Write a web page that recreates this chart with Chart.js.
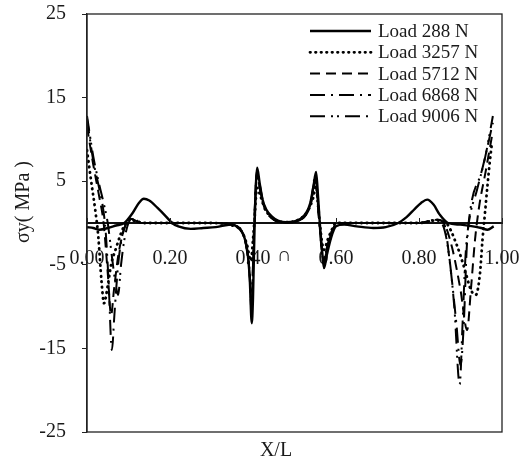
<!DOCTYPE html>
<html>
<head>
<meta charset="utf-8">
<script src="https://cdn.jsdelivr.net/npm/chart.js@4"></script>
<style>
  body { margin: 0; background: #fff; }
  #wrap { width: 531px; height: 472px; }
</style>
</head>
<body>
<div id="wrap"><canvas id="myLineChart" width="531" height="472"></canvas></div>
<script>
// values (X/L against sigma y in MPa)
const seriesLabels = ['Load 288 N', 'Load 3257 N', 'Load 5712 N', 'Load 6868 N', 'Load 9006 N'];

const x288 = [0, 0.015, 0.03, 0.05, 0.07, 0.09, 0.11, 0.125, 0.137, 0.15, 0.17, 0.19, 0.205, 0.22, 0.25, 0.28, 0.31, 0.33, 0.35, 0.365, 0.377, 0.386, 0.392, 0.397, 0.4, 0.404, 0.41, 0.416, 0.423, 0.432, 0.445, 0.46, 0.48, 0.5, 0.515, 0.528, 0.538, 0.546, 0.552, 0.557, 0.561, 0.566, 0.571, 0.578, 0.588, 0.6, 0.62, 0.65, 0.69, 0.72, 0.75, 0.77, 0.79, 0.805, 0.82, 0.835, 0.85, 0.87, 0.9, 0.93, 0.95, 0.965, 0.98];
const y288 = [-0.5, -0.6, -0.8, -0.6, -0.3, 0, 1.2, 2.4, 2.9, 2.7, 1.8, 0.8, 0, -0.4, -0.7, -0.6, -0.5, -0.3, -0.2, -0.6, -1.4, -3.2, -6.5, -12, -9, 0, 6.6, 4.8, 2.8, 1.6, 0.8, 0.3, 0.1, 0.2, 0.5, 1.2, 2.4, 4.5, 6.1, 3, 0, -3, -5.4, -3.8, -1.8, -0.4, -0.2, -0.4, -0.6, -0.5, 0, 0.7, 1.7, 2.4, 2.8, 2.2, 1, 0, -0.2, -0.4, -0.6, -0.8, -0.4];

const x3257 = [0, 0.01, 0.02, 0.027, 0.035, 0.041, 0.05, 0.058, 0.07, 0.08, 0.09, 0.1, 0.12, 0.14, 0.2, 0.3, 0.35, 0.37, 0.385, 0.395, 0.4, 0.403, 0.41, 0.418, 0.43, 0.45, 0.48, 0.51, 0.53, 0.545, 0.552, 0.557, 0.561, 0.566, 0.571, 0.58, 0.59, 0.6, 0.7, 0.8, 0.84, 0.865, 0.89, 0.91, 0.925, 0.937, 0.947, 0.953, 0.959, 0.965, 0.971, 0.976];
const y3257 = [8.7, 5, 1.5, -1.5, -7, -9.6, -7.5, -5, -3, -1.5, -0.3, 0.4, 0.2, 0, 0, 0, -0.3, -0.8, -2.5, -4.5, -2, 0, 4.2, 3.2, 1.6, 0.5, 0.1, 0.4, 1.3, 3, 4.4, 2, 0, -2.2, -3.2, -2, -0.8, 0, 0, 0, 0.3, 0, -2.5, -5.5, -8, -8.6, -6, -2, 1.2, 4.5, 7.5, 9.7];

const x5712 = [0, 0.015, 0.03, 0.04, 0.05, 0.058, 0.065, 0.075, 0.085, 0.095, 0.105, 0.13, 0.2, 0.3, 0.35, 0.37, 0.385, 0.392, 0.397, 0.4, 0.403, 0.409, 0.416, 0.425, 0.435, 0.45, 0.48, 0.51, 0.528, 0.54, 0.551, 0.556, 0.56, 0.565, 0.57, 0.578, 0.59, 0.6, 0.62, 0.7, 0.8, 0.845, 0.86, 0.88, 0.9, 0.916, 0.925, 0.935, 0.945, 0.96, 0.978];
const y5712 = [11.5, 7, 3, 0, -6, -11, -8, -4, -1.5, 0, 0.5, 0, 0, 0, -0.2, -0.8, -3, -6, -10, -5, 0, 5.8, 4.2, 2.2, 1.2, 0.4, 0.05, 0.3, 1, 2.5, 5.5, 2.5, 0, -2.8, -4.5, -3, -1, -0.2, 0, 0, 0, 0.4, 0, -3, -8, -12.8, -8, -2, 2, 6, 11];

const x6868 = [0, 0.015, 0.03, 0.038, 0.045, 0.052, 0.06, 0.066, 0.075, 0.085, 0.095, 0.105, 0.13, 0.2, 0.3, 0.35, 0.37, 0.385, 0.392, 0.397, 0.4, 0.403, 0.41, 0.417, 0.425, 0.435, 0.45, 0.48, 0.51, 0.528, 0.54, 0.551, 0.556, 0.56, 0.565, 0.57, 0.578, 0.59, 0.6, 0.62, 0.7, 0.8, 0.845, 0.86, 0.875, 0.89, 0.9, 0.908, 0.915, 0.925, 0.95, 0.978];
const y6868 = [12.5, 7.5, 4, 2, -1, -7, -15.2, -11, -5, -1.5, 0, 0.5, 0, 0, 0, -0.2, -0.8, -3.2, -6.5, -11, -5.5, 0, 6.2, 4.4, 2.4, 1.3, 0.4, 0.05, 0.3, 1.1, 2.7, 5.9, 2.6, 0, -3, -4.9, -3.2, -1, -0.2, 0, 0, 0, 0.4, 0, -5, -12, -17, -12, -3, 2, 6, 12];

const x9006 = [0, 0.015, 0.03, 0.04, 0.05, 0.06, 0.068, 0.075, 0.082, 0.09, 0.1, 0.11, 0.13, 0.2, 0.3, 0.35, 0.37, 0.385, 0.392, 0.397, 0.4, 0.403, 0.41, 0.417, 0.425, 0.435, 0.45, 0.48, 0.51, 0.528, 0.54, 0.551, 0.556, 0.56, 0.565, 0.57, 0.578, 0.59, 0.6, 0.62, 0.7, 0.8, 0.84, 0.855, 0.87, 0.885, 0.898, 0.905, 0.912, 0.92, 0.94, 0.96, 0.978];
const y9006 = [12.8, 8, 4.5, 2.4, 0, -4, -7, -8.6, -5, -2, 0, 0.6, 0, 0, 0, -0.2, -0.7, -3, -6, -10.5, -5, 0, 5.5, 4, 2.1, 1.1, 0.4, 0.05, 0.3, 1, 2.4, 5.3, 2.4, 0, -2.8, -4.8, -3, -1, -0.2, 0, 0, 0, 0.4, 0, -3, -10, -19.3, -12, -4, 0, 4, 8, 12.8];

const xTickStep = 0.2;
const yTicksMin = -25;
const yTicksMax = 25;
const yTickStep = 10;

const serif = 'Liberation Serif, Times New Roman, serif';
const textColor = '#1a1a1a';

function toPoints(xs, ys) {
    return xs.map((x, i) => ({x: x, y: ys[i]}));
}

const lineStyles = [
    {dash: [], width: 2.4, cap: 'butt'},
    {dash: [0.5, 5], width: 2.8, cap: 'round'},
    {dash: [10, 6], width: 2, cap: 'butt'},
    {dash: [15, 6, 2, 6], width: 2, cap: 'butt'},
    {dash: [15, 6, 2, 4, 2, 6], width: 2, cap: 'butt'}
];

const seriesData = [
    toPoints(x288, y288),
    toPoints(x3257, y3257),
    toPoints(x5712, y5712),
    toPoints(x6868, y6868),
    toPoints(x9006, y9006)
];

// frame, small x ticks, axis titles and legend drawn on the canvas
const decorPlugin = {
    id: 'decor',
    afterDraw(chart) {
        const ctx = chart.ctx;
        const a = chart.chartArea;
        const xs = chart.scales.x;
        const ys = chart.scales.y;
        ctx.save();

        ctx.strokeStyle = '#222';
        ctx.lineWidth = 1.3;
        ctx.strokeRect(a.left, a.top, a.right - a.left, a.bottom - a.top);

        const zeroY = ys.getPixelForValue(0);
        ctx.lineWidth = 1;
        ctx.beginPath();
        xs.ticks.forEach(t => {
            const px = Math.round(xs.getPixelForValue(t.value)) + 0.5;
            ctx.moveTo(px, zeroY);
            ctx.lineTo(px, zeroY - 5);
        });
        ctx.stroke();

        ctx.fillStyle = textColor;
        ctx.font = '20px ' + serif;
        ctx.textAlign = 'center';
        ctx.textBaseline = 'middle';
        ctx.fillText('X/L', 276, 451);
        ctx.fillText('\u2229', 284, 256);

        ctx.save();
        ctx.translate(24, 202);
        ctx.rotate(-Math.PI / 2);
        ctx.fillText('σy( MPa )', 0, 0);
        ctx.restore();

        // legend
        ctx.textAlign = 'left';
        ctx.font = '19px ' + serif;
        chart.data.datasets.forEach((ds, i) => {
            const cy = 31 + i * 21.3;
            ctx.save();
            ctx.strokeStyle = '#000';
            ctx.lineWidth = ds.borderWidth;
            ctx.lineCap = ds.borderCapStyle;
            ctx.setLineDash(ds.borderDash || []);
            ctx.beginPath();
            ctx.moveTo(310, cy);
            ctx.lineTo(371, cy);
            ctx.stroke();
            ctx.restore();
            ctx.fillText(ds.label, 378, cy + 1);
        });
        ctx.restore();
    }
};

let myLineChart = new Chart(document.getElementById('myLineChart').getContext('2d'), {
    type: 'line',
    data: {
        datasets: seriesLabels.map((label, i) => ({
            label: label,
            data: seriesData[i],
            borderColor: '#000',
            borderWidth: lineStyles[i].width,
            borderDash: lineStyles[i].dash,
            borderCapStyle: lineStyles[i].cap,
            pointRadius: 0,
            fill: false,
            cubicInterpolationMode: 'monotone'
        }))
    },
    options: {
        responsive: false,
        animation: false,
        layout: {
            padding: {top: 14, right: 29, bottom: 40, left: 0}
        },
        plugins: {
            legend: {display: false},
            tooltip: {enabled: false}
        },
        scales: {
            x: {
                type: 'linear',
                position: {y: 0},
                min: 0,
                max: 1,
                grid: {display: false, drawTicks: false},
                border: {display: true, color: '#111', width: 2},
                ticks: {
                    stepSize: xTickStep,
                    padding: 24,
                    maxRotation: 0,
                    color: textColor,
                    font: {family: serif, size: 20},
                    callback: v => v.toFixed(2)
                },
                afterFit(scale) {
                    scale.height = 0;
                    scale.paddingLeft = 0;
                    scale.paddingRight = 0;
                }
            },
            y: {
                type: 'linear',
                min: yTicksMin,
                max: yTicksMax,
                grid: {drawOnChartArea: false, drawTicks: true, tickLength: 5, color: '#222'},
                border: {display: true, color: '#222', width: 1.3},
                ticks: {
                    stepSize: yTickStep,
                    padding: 16,
                    color: textColor,
                    font: {family: serif, size: 20}
                },
                afterFit(scale) {
                    scale.width = 87;
                    scale.paddingTop = 0;
                    scale.paddingBottom = 0;
                }
            }
        }
    },
    plugins: [decorPlugin]
});
</script>
</body>
</html>
